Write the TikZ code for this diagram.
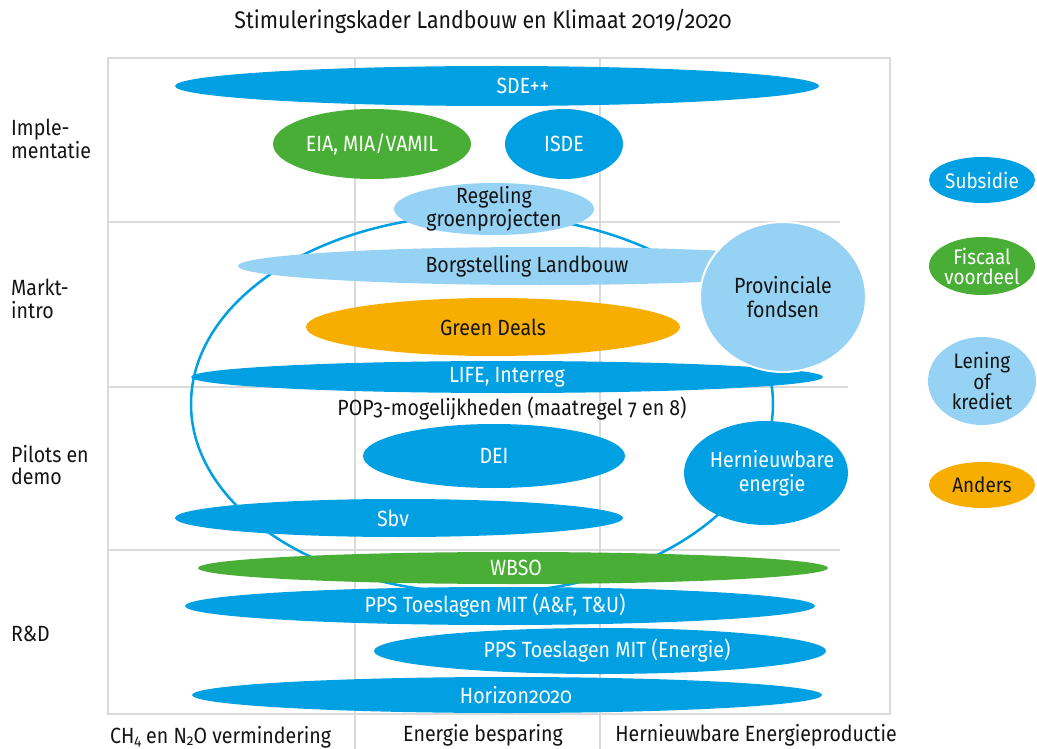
\documentclass[tikz,border=0pt]{standalone}
\usepackage{fontspec}
\setmainfont[Numbers=OldStyle,FakeStretch=0.89]{Fira Sans}
\newfontfamily\condfont[Numbers=OldStyle,FakeStretch=0.89]{Fira Sans}
\newfontfamily\legfont[Numbers=OldStyle,FakeStretch=0.9]{Fira Sans}
\usetikzlibrary{shapes.geometric}
\definecolor{cblue}{RGB}{0,160,226}
\definecolor{cgreen}{RGB}{72,174,53}
\definecolor{clight}{RGB}{150,210,243}
\definecolor{corange}{RGB}{248,174,0}
\definecolor{cgrid}{RGB}{218,218,218}
\definecolor{ctext}{RGB}{20,20,20}
\newcommand{\mysub}[1]{\raisebox{-2pt}{\fontsize{15}{15}\selectfont #1}}
\tikzset{
  bub/.style={ellipse, inner sep=0pt, outer sep=0pt},
  wtext/.style={text=white, font=\condfont\fontsize{22}{24}\selectfont, align=center, inner sep=0pt},
  btext/.style={text=ctext, font=\condfont\fontsize{22}{24}\selectfont, align=center, inner sep=0pt},
  lwtext/.style={text=white, font=\legfont\fontsize{21}{20}\selectfont, align=center, inner sep=0pt},
  lbtext/.style={text=ctext, font=\legfont\fontsize{21}{20}\selectfont, align=center, inner sep=0pt},
  rowlab/.style={text=ctext, anchor=west, align=left, font=\condfont\fontsize{22}{22.5}\selectfont, inner sep=0pt},
  collab/.style={text=ctext, font=\condfont\fontsize{22}{24}\selectfont, inner sep=0pt},
  gridline/.style={draw=cgrid, line width=1.5pt},
  ring/.style={draw=cblue, line width=2.5pt}
}
\begin{document}
\begin{tikzpicture}[x=1pt,y=-1pt]
\useasboundingbox (0,0) rectangle (1037,749);
% title
\node[collab, font=\condfont\fontsize{24}{26}\selectfont] (title) at (483,21) {Stimuleringskader Landbouw en Klimaat 2019/2020};
% grid
\draw[gridline] (108,58) rectangle (890,714);
\draw[gridline] (355,58) -- (355,749);
\draw[gridline] (600,58) -- (600,749);
\draw[gridline] (108,222) -- (840,222);
\draw[gridline] (108,387) -- (848,387);
\draw[gridline] (108,550) -- (840,550);
% row labels
\node[rowlab] (r1) at (11,139) {Imple-\\mentatie};
\node[rowlab] (r2) at (11,299) {Markt-\\intro};
\node[rowlab] (r3) at (11,465) {Pilots en\\demo};
\node[rowlab] (r4) at (11,634) {R\&D};
% column labels
\node[collab, anchor=base west] (c1) at (110,743) {CH\mysub{4} en N\mysub{2}O vermindering};
\node[collab] (c2) at (483,735) {Energie besparing};
\node[collab] (c3) at (756,735) {Hernieuwbare Energieproductie};
% big ring
\draw[ring] (482,404) ellipse [x radius=291, y radius=189];
% ellipses
\node[bub, fill=cblue, minimum width=644, minimum height=40, label={[wtext, xshift=26]center:SDE++}] (sde) at (497,86) {};
\node[bub, fill=cgreen, minimum width=198, minimum height=70, label={[wtext]center:EIA, MIA/VAMIL}] (eia) at (372,144) {};
\node[bub, fill=cblue, minimum width=118, minimum height=70, label={[wtext]center:ISDE}] (isde) at (564,144) {};
\node[bub, fill=clight, minimum width=200, minimum height=52, label={[btext, font=\condfont\fontsize{22}{20}\selectfont]center:Regeling\\groenprojecten}] (rgp) at (494,209) {};
\node[bub, fill=clight, minimum width=604, minimum height=38, label={[btext, xshift=-13]center:Borgstelling Landbouw}] (borg) at (540,266) {};
\node[bub, fill=corange, minimum width=374, minimum height=58, label={[btext]center:Green Deals}] (gd) at (493,327) {};
\node[bub, fill=cblue, minimum width=632, minimum height=32, label={[wtext]center:LIFE, Interreg}] (life) at (507,377) {};
\node[bub, fill=clight, draw=white, line width=2pt, minimum width=166, minimum height=150, label={[btext]center:Provinciale\\fondsen}] (prov) at (783,297) {};
\node[btext] (pop) at (512,409) {POP3-mogelijkheden (maatregel 7 en 8)};
\node[bub, fill=cblue, minimum width=262, minimum height=64, label={[wtext]center:DEI}] (dei) at (494,456) {};
\node[bub, fill=cblue, minimum width=164, minimum height=104, label={[wtext, xshift=6]center:Hernieuwbare\\energie}] (hern) at (766,473) {};
\node[bub, fill=cblue, minimum width=448, minimum height=38, label={[wtext, xshift=-6]center:Sbv}] (sbv) at (399,518) {};
\node[bub, fill=cgreen, minimum width=630, minimum height=32, label={[wtext, xshift=3]center:WBSO}] (wbso) at (513,568) {};
\node[bub, fill=cblue, minimum width=630, minimum height=38, label={[wtext, xshift=-5]center:PPS Toeslagen MIT (A\&F, T\&U)}] (pps1) at (500,606) {};
\node[bub, fill=cblue, minimum width=452, minimum height=46, label={[wtext, xshift=7]center:PPS Toeslagen MIT (Energie)}] (pps2) at (600,651) {};
\node[bub, fill=cblue, minimum width=630, minimum height=36, label={[wtext, xshift=9]center:Horizon2020}] (hor) at (507,695) {};
% legend
\node[bub, fill=cblue, minimum width=106, minimum height=46, label={[lwtext]center:Subsidie}] (lsub) at (982,180) {};
\node[bub, fill=cgreen, minimum width=106, minimum height=58, label={[lwtext]center:Fiscaal\\voordeel}] (lfis) at (982,266) {};
\node[bub, fill=clight, minimum width=108, minimum height=88, label={[lbtext]center:Lening\\of\\krediet}] (llen) at (982,381) {};
\node[bub, fill=corange, minimum width=106, minimum height=46, label={[lbtext]center:Anders}] (land) at (982,485) {};
\end{tikzpicture}
\end{document}
